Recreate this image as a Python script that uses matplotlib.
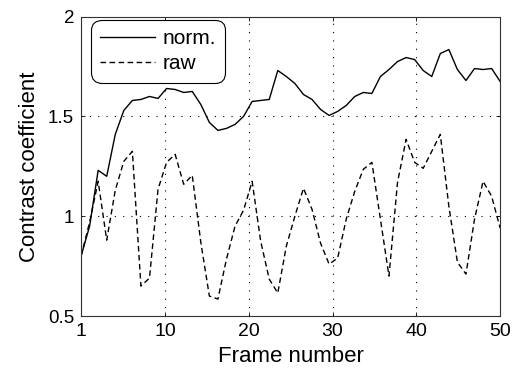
import numpy as np
import matplotlib
matplotlib.use("Agg")
import matplotlib.pyplot as plt

plt.rcParams['font.family'] = ['Liberation Sans', 'DejaVu Sans']

frames = np.arange(1, 51)
norm = [0.80, 0.95, 1.23, 1.20, 1.41, 1.53, 1.58, 1.585, 1.60, 1.59,
        1.64, 1.635, 1.62, 1.625, 1.56, 1.47, 1.43, 1.44, 1.46, 1.50,
        1.575, 1.58, 1.585, 1.73, 1.70, 1.665, 1.61, 1.585, 1.535, 1.505,
        1.525, 1.555, 1.60, 1.62, 1.615, 1.70, 1.735, 1.775, 1.795, 1.785,
        1.73, 1.70, 1.815, 1.835, 1.735, 1.68, 1.74, 1.735, 1.74, 1.675]
raw = [0.80, 0.97, 1.175, 0.88, 1.13, 1.275, 1.325, 0.65, 0.69, 1.135,
       1.27, 1.31, 1.16, 1.205, 0.87, 0.60, 0.585, 0.785, 0.95, 1.03,
       1.175, 0.875, 0.685, 0.615, 0.85, 1.0, 1.14, 1.035, 0.865, 0.76,
       0.79, 0.985, 1.125, 1.235, 1.27, 0.985, 0.70, 1.17, 1.385, 1.27,
       1.24, 1.325, 1.41, 1.05, 0.77, 0.71, 0.985, 1.175, 1.10, 0.94]

xtick_labels = ['1', '10', '20', '30', '40', '50']
yticks = [0.5, 1, 1.5, 2]
ytick_labels = ['0.5', '1', '1.5', '2']

fig = plt.figure(figsize=(5.13, 3.78), dpi=100)
ax = fig.add_axes([0.158, 0.164, 0.817, 0.792])

ax.plot(frames, norm, color='black', lw=1.0, label='norm.')
ax.plot(frames, raw, color='black', lw=1.0, ls=(0, (4, 2.5)), label='raw')

ax.set_xlim(1, 50)
ax.set_ylim(0.5, 2)
# ticks evenly spaced across the axis, as in the original figure
ax.set_xticks(np.linspace(1, 50, len(xtick_labels)))
ax.set_xticklabels(xtick_labels)
ax.set_yticks(yticks)
ax.set_yticklabels(ytick_labels)

ax.grid(True, color='black', ls=(0, (1, 6.5)), lw=0.8)
ax.tick_params(direction='in', top=True, right=True, labelsize=14, length=3,
               width=0.6, pad=5)
ax.tick_params(axis='y', labelsize=13.5)
for s in ax.spines.values():
    s.set_linewidth(0.8)
    s.set_color('#333333')

ax.set_xlabel('Frame number', fontsize=16, labelpad=4)
ax.set_ylabel('Contrast coefficient', fontsize=16, labelpad=6)

leg = ax.legend(loc='upper left', bbox_to_anchor=(0.024, 0.989),
                borderaxespad=0, fontsize=15, frameon=True, fancybox=True,
                handlelength=2.64, handletextpad=0.34, borderpad=0.44,
                labelspacing=0.3, edgecolor='black', framealpha=1)
leg.get_frame().set_linewidth(0.8)
leg.get_frame().set_boxstyle('round', pad=0, rounding_size=0.5)

fig.savefig('out.png', dpi=100)
